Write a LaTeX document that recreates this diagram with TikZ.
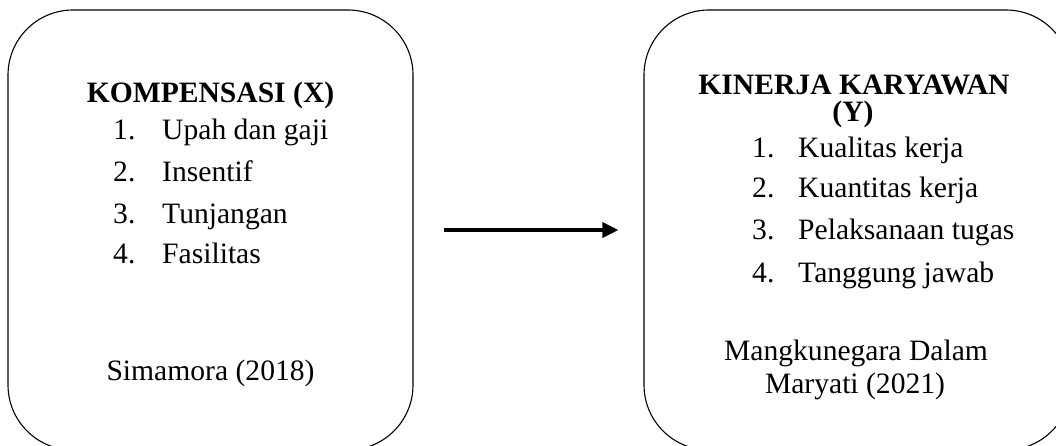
\documentclass[tikz,border=0pt]{standalone}
\usepackage{fontspec}
\setmainfont{Liberation Serif}
\usetikzlibrary{arrows.meta}
\tikzset{
  panel/.style={draw=black, line width=1.1pt, rounded corners=65pt, inner sep=0pt},
  txt/.style={anchor=base, inner sep=0pt, font=\fontsize{29.6}{34}\selectfont},
  head/.style={txt, font=\fontsize{29.6}{34}\selectfont\bfseries},
  num/.style={txt, anchor=base west},
  flow/.style={line width=3.4pt, -{Triangle[length=16pt, width=15pt]}}
}
\begin{document}
\begin{tikzpicture}[x=1pt, y=-1pt]
  \useasboundingbox (0,0) rectangle (1056,446);
  \clip (0,0) rectangle (1056,446);

  % two panels
  \node[panel, minimum width=405pt, minimum height=440pt] (L) at (210.5,230) {};
  \node[panel, minimum width=427pt, minimum height=440pt] (R) at (857.5,230) {};

  % left panel: compensation
  \node[head] (lt) at (210.5,103) {KOMPENSASI (X)};
  \node[num] (l1n) at (113,140) {1.};
  \node[num] (l1) at (162,140) {Upah dan gaji};
  \node[num] (l2n) at (113,182) {2.};
  \node[num] (l2) at (162,182) {Insentif};
  \node[num] (l3n) at (113,223) {3.};
  \node[num] (l3) at (162,223) {Tunjangan};
  \node[num] (l4n) at (113,263) {4.};
  \node[num] (l4) at (162,263) {Fasilitas};
  \node[txt] (lsrc) at (210.5,380) {Simamora (2018)};

  % right panel: employee performance
  \node[head] (rt1) at (854,95) {KINERJA KARYAWAN};
  \node[head] (rt2) at (853,122) {(Y)};
  \node[num] (r1n) at (752,158) {1.};
  \node[num] (r1) at (798,158) {Kualitas kerja};
  \node[num] (r2n) at (752,198) {2.};
  \node[num] (r2) at (798,198) {Kuantitas kerja};
  \node[num] (r3n) at (752,240) {3.};
  \node[num] (r3) at (798,240) {Pelaksanaan tugas};
  \node[num] (r4n) at (752,282) {4.};
  \node[num] (r4) at (798,282) {Tanggung jawab};
  \node[txt] (rsrc1) at (856,360) {Mangkunegara Dalam};
  \node[txt] (rsrc2) at (855,393) {Maryati (2021)};

  % influence arrow
  \draw[flow] ([xshift=30pt]L.east) -- ([xshift=-25pt]R.west);
\end{tikzpicture}
\end{document}
